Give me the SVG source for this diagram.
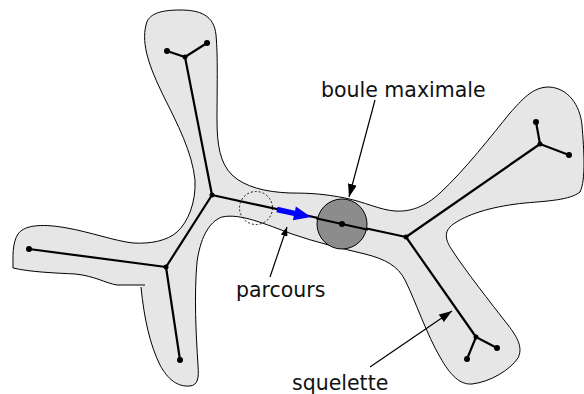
<svg xmlns="http://www.w3.org/2000/svg" width="584" height="394" viewBox="0 0 584 394">
<style>
.shape{fill:#e6e6e6;stroke:#000;stroke-width:1}
.sk{fill:none;stroke:#000;stroke-width:2.2;stroke-linecap:round}
.pt{fill:#000}
.lbl{font-family:"DejaVu Sans","Liberation Sans",sans-serif;font-size:20.5px;fill:#111}
.ann{stroke:#000;stroke-width:1.2;fill:none}
</style>
<defs>
<marker id="ah" markerWidth="13" markerHeight="9" refX="13" refY="4.5" orient="auto" markerUnits="userSpaceOnUse"><path d="M0,0 L13,4.5 L0,9 z" fill="#000"/></marker>
<marker id="ahs" markerWidth="9" markerHeight="7" refX="9" refY="3.5" orient="auto" markerUnits="userSpaceOnUse"><path d="M0,0 L9,3.5 L0,7 z" fill="#000"/></marker>
</defs>
<g id="shape">
<path class="shape" d="M141,287 C144,318 150,345 160,365 C168,380 178,387 190,386 C198,385 199,378 198,365 C196,335 194,295 197,262 C200,240 208,222 222,217 C240,213 265,224 292,234 C315,242 340,248 365,254 C385,259 398,266 405,280 C415,300 427,335 440,357 C450,375 460,385 472,384 C490,382 510,370 518,358 C523,348 518,338 508,325 C490,302 465,270 452,250 C444,238 444,230 455,223 C470,213 495,206 525,203 C548,201 570,200 580,192 C586,180 584,150 582,125 C580,105 568,88 549,87 C532,87 522,100 510,113 C492,135 465,170 440,193 C425,207 410,212 395,211 C380,210 365,202 345,198 C325,194 310,193 290,193 C265,192 245,187 232,175 C220,163 217,145 217,120 C217,90 218,55 216,35 C214,15 200,10 180,10 C160,10 148,14 146,25 C141,45 150,68 163,95 C178,125 192,152 195,180 C196,203 188,222 177,232 C167,241 150,244 133,243 C115,241 90,232 67,228 C45,224 25,224 18,234 C12,243 13,258 13,268 C30,272 55,273 75,274 C95,276 105,283 117,285 L145,285"/>
</g>
<g id="skeleton">
<polyline class="sk" points="167,51 185,57 207,43"/>
<line class="sk" x1="185" y1="57" x2="212" y2="195"/>
<line class="sk" x1="212" y1="195" x2="166" y2="267"/>
<line class="sk" x1="29" y1="249" x2="166" y2="267"/>
<line class="sk" x1="166" y1="267" x2="180" y2="360"/>
<line class="sk" x1="212" y1="195" x2="406" y2="237"/>
<line class="sk" x1="406" y1="237" x2="540" y2="144"/>
<polyline class="sk" points="536,122 540,144 569,155"/>
<line class="sk" x1="406" y1="237" x2="476" y2="337"/>
<polyline class="sk" points="467,359 476,337 497,348"/>
</g>
<g id="ball">
<circle cx="342" cy="224" r="25" fill="#8c8c8c" stroke="#000" stroke-width="1"/>
<line class="sk" x1="317" y1="218.5" x2="367" y2="229.5"/>
</g>
<g id="points">
<circle class="pt" cx="167" cy="51" r="3"/>
<circle class="pt" cx="207" cy="43" r="3"/>
<circle class="pt" cx="185" cy="57" r="2.5"/>
<circle class="pt" cx="212" cy="195" r="2.5"/>
<circle class="pt" cx="166" cy="267" r="2.5"/>
<circle class="pt" cx="29" cy="249" r="3"/>
<circle class="pt" cx="180" cy="360" r="3"/>
<circle class="pt" cx="342" cy="224" r="3"/>
<circle class="pt" cx="406" cy="237" r="2.5"/>
<circle class="pt" cx="540" cy="144" r="2.5"/>
<circle class="pt" cx="536" cy="122" r="3"/>
<circle class="pt" cx="569" cy="155" r="3"/>
<circle class="pt" cx="476" cy="337" r="2.5"/>
<circle class="pt" cx="467" cy="359" r="3"/>
<circle class="pt" cx="497" cy="348" r="3"/>
</g>
<g id="traversal">
<circle cx="256" cy="208" r="16.5" fill="none" stroke="#000" stroke-width="0.9" stroke-dasharray="2,2"/>
<polygon points="276.4,212.2 277.6,206.8 295,210.7 295.9,206.6 311,217.1 292.9,220.2 293.8,216.1" fill="#0000ff"/>
</g>
<g id="connectors">
<line class="ann" x1="375" y1="100" x2="349" y2="197" marker-end="url(#ah)"/>
<line class="ann" x1="270" y1="277" x2="287" y2="227" marker-end="url(#ahs)"/>
<line class="ann" x1="370" y1="367" x2="452" y2="311" marker-end="url(#ah)"/>
</g>
<g id="labels">
<text class="lbl" x="321" y="97">boule maximale</text>
<text class="lbl" x="236" y="297">parcours</text>
<text class="lbl" x="292" y="390">squelette</text>
</g>
</svg>
